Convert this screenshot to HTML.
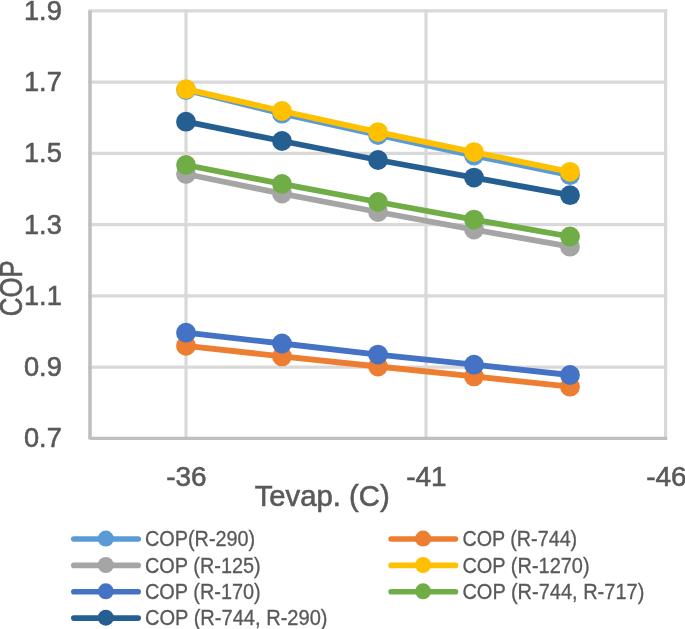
<!DOCTYPE html>
<html><head><meta charset="utf-8"><style>
html,body{margin:0;padding:0;background:#fff;}
body{width:685px;height:629px;overflow:hidden;}
svg{display:block;}
text{font-family:"Liberation Sans",sans-serif;fill:#595959;stroke:#595959;stroke-width:0.6px;}
.tk{font-size:28.5px;}
.ti{font-size:29.5px;}
.cop{font-size:31px;}
.lg{font-size:21.5px;stroke-width:0.3px;}
svg{filter:blur(0.4px);}
</style></head><body>
<svg width="685" height="629" viewBox="0 0 685 629">
<rect width="685" height="629" fill="#fff"/>
<line x1="88.4" y1="10.80" x2="667.2" y2="10.80" stroke="#D9D9D9" stroke-width="3.2"/>
<line x1="88.4" y1="82.05" x2="667.2" y2="82.05" stroke="#D9D9D9" stroke-width="3.2"/>
<line x1="88.4" y1="153.30" x2="667.2" y2="153.30" stroke="#D9D9D9" stroke-width="3.2"/>
<line x1="88.4" y1="224.55" x2="667.2" y2="224.55" stroke="#D9D9D9" stroke-width="3.2"/>
<line x1="88.4" y1="295.80" x2="667.2" y2="295.80" stroke="#D9D9D9" stroke-width="3.2"/>
<line x1="88.4" y1="367.05" x2="667.2" y2="367.05" stroke="#D9D9D9" stroke-width="3.2"/>
<line x1="186" y1="9.200000000000001" x2="186" y2="438.3" stroke="#D9D9D9" stroke-width="3.2"/>
<line x1="426" y1="9.200000000000001" x2="426" y2="438.3" stroke="#D9D9D9" stroke-width="3.2"/>
<line x1="665.6" y1="9.200000000000001" x2="665.6" y2="438.3" stroke="#D9D9D9" stroke-width="3.2"/>
<line x1="90.0" y1="10.8" x2="90.0" y2="439.5" stroke="#BFBFBF" stroke-width="3.6"/>
<line x1="90.0" y1="438.3" x2="667.2" y2="438.3" stroke="#BFBFBF" stroke-width="3.2"/>
<text x="61.8" y="19.80" text-anchor="end" class="tk" textLength="37.8" lengthAdjust="spacingAndGlyphs">1.9</text>
<text x="61.8" y="91.05" text-anchor="end" class="tk" textLength="37.8" lengthAdjust="spacingAndGlyphs">1.7</text>
<text x="61.8" y="162.30" text-anchor="end" class="tk" textLength="37.8" lengthAdjust="spacingAndGlyphs">1.5</text>
<text x="61.8" y="233.55" text-anchor="end" class="tk" textLength="37.8" lengthAdjust="spacingAndGlyphs">1.3</text>
<text x="61.8" y="304.80" text-anchor="end" class="tk" textLength="37.8" lengthAdjust="spacingAndGlyphs">1.1</text>
<text x="61.8" y="376.05" text-anchor="end" class="tk" textLength="37.8" lengthAdjust="spacingAndGlyphs">0.9</text>
<text x="61.8" y="447.30" text-anchor="end" class="tk" textLength="37.8" lengthAdjust="spacingAndGlyphs">0.7</text>
<text x="166.2" y="485.9" class="tk" textLength="40.4" lengthAdjust="spacingAndGlyphs">-36</text>
<text x="406.2" y="485.9" class="tk" textLength="40.4" lengthAdjust="spacingAndGlyphs">-41</text>
<text x="646.2" y="485.9" class="tk" textLength="40.4" lengthAdjust="spacingAndGlyphs">-46</text>
<text x="254.7" y="505.7" class="ti" textLength="135.0" lengthAdjust="spacingAndGlyphs">Tevap. (C)</text>
<text transform="translate(21.7,316.2) rotate(-90)" x="0" y="0" class="ti cop" textLength="56.0" lengthAdjust="spacingAndGlyphs">COP</text>
<polyline points="186,90.0 282,113.7 378,135.0 474,155.6 570,175.2" fill="none" stroke="#5B9BD5" stroke-width="5.8" stroke-linejoin="round" stroke-linecap="round"/>
<circle cx="186" cy="90.0" r="9.9" fill="#5B9BD5"/>
<circle cx="282" cy="113.7" r="9.9" fill="#5B9BD5"/>
<circle cx="378" cy="135.0" r="9.9" fill="#5B9BD5"/>
<circle cx="474" cy="155.6" r="9.9" fill="#5B9BD5"/>
<circle cx="570" cy="175.2" r="9.9" fill="#5B9BD5"/>
<polyline points="186,345.8 282,356.4 378,366.5 474,376.4 570,386.7" fill="none" stroke="#ED7D31" stroke-width="5.8" stroke-linejoin="round" stroke-linecap="round"/>
<circle cx="186" cy="345.8" r="9.9" fill="#ED7D31"/>
<circle cx="282" cy="356.4" r="9.9" fill="#ED7D31"/>
<circle cx="378" cy="366.5" r="9.9" fill="#ED7D31"/>
<circle cx="474" cy="376.4" r="9.9" fill="#ED7D31"/>
<circle cx="570" cy="386.7" r="9.9" fill="#ED7D31"/>
<polyline points="186,174.0 282,193.6 378,212.0 474,229.6 570,246.7" fill="none" stroke="#A5A5A5" stroke-width="5.8" stroke-linejoin="round" stroke-linecap="round"/>
<circle cx="186" cy="174.0" r="9.9" fill="#A5A5A5"/>
<circle cx="282" cy="193.6" r="9.9" fill="#A5A5A5"/>
<circle cx="378" cy="212.0" r="9.9" fill="#A5A5A5"/>
<circle cx="474" cy="229.6" r="9.9" fill="#A5A5A5"/>
<circle cx="570" cy="246.7" r="9.9" fill="#A5A5A5"/>
<polyline points="186,89.2 282,111.0 378,132.1 474,152.1 570,171.8" fill="none" stroke="#FFC000" stroke-width="5.8" stroke-linejoin="round" stroke-linecap="round"/>
<circle cx="186" cy="89.2" r="9.9" fill="#FFC000"/>
<circle cx="282" cy="111.0" r="9.9" fill="#FFC000"/>
<circle cx="378" cy="132.1" r="9.9" fill="#FFC000"/>
<circle cx="474" cy="152.1" r="9.9" fill="#FFC000"/>
<circle cx="570" cy="171.8" r="9.9" fill="#FFC000"/>
<polyline points="186,332.7 282,343.5 378,354.6 474,364.7 570,375.0" fill="none" stroke="#4472C4" stroke-width="5.8" stroke-linejoin="round" stroke-linecap="round"/>
<circle cx="186" cy="332.7" r="9.9" fill="#4472C4"/>
<circle cx="282" cy="343.5" r="9.9" fill="#4472C4"/>
<circle cx="378" cy="354.6" r="9.9" fill="#4472C4"/>
<circle cx="474" cy="364.7" r="9.9" fill="#4472C4"/>
<circle cx="570" cy="375.0" r="9.9" fill="#4472C4"/>
<polyline points="186,165.0 282,183.9 378,202.0 474,219.6 570,236.5" fill="none" stroke="#70AD47" stroke-width="5.8" stroke-linejoin="round" stroke-linecap="round"/>
<circle cx="186" cy="165.0" r="9.9" fill="#70AD47"/>
<circle cx="282" cy="183.9" r="9.9" fill="#70AD47"/>
<circle cx="378" cy="202.0" r="9.9" fill="#70AD47"/>
<circle cx="474" cy="219.6" r="9.9" fill="#70AD47"/>
<circle cx="570" cy="236.5" r="9.9" fill="#70AD47"/>
<polyline points="186,121.7 282,141.0 378,160.0 474,177.6 570,195.2" fill="none" stroke="#255E91" stroke-width="5.8" stroke-linejoin="round" stroke-linecap="round"/>
<circle cx="186" cy="121.7" r="9.9" fill="#255E91"/>
<circle cx="282" cy="141.0" r="9.9" fill="#255E91"/>
<circle cx="378" cy="160.0" r="9.9" fill="#255E91"/>
<circle cx="474" cy="177.6" r="9.9" fill="#255E91"/>
<circle cx="570" cy="195.2" r="9.9" fill="#255E91"/>
<line x1="73.8" y1="539.00" x2="138.2" y2="539.00" stroke="#5B9BD5" stroke-width="5.6" stroke-linecap="round"/>
<circle cx="105.8" cy="538.6" r="8" fill="#5B9BD5"/>
<text x="145.0" y="546.35" class="lg" textLength="110.2" lengthAdjust="spacingAndGlyphs">COP(R-290)</text>
<line x1="391.1" y1="539.00" x2="455.5" y2="539.00" stroke="#ED7D31" stroke-width="5.6" stroke-linecap="round"/>
<circle cx="423.1" cy="538.6" r="8" fill="#ED7D31"/>
<text x="462.4" y="546.35" class="lg" textLength="114.8" lengthAdjust="spacingAndGlyphs">COP (R-744)</text>
<line x1="73.8" y1="565.40" x2="138.2" y2="565.40" stroke="#A5A5A5" stroke-width="5.6" stroke-linecap="round"/>
<circle cx="105.8" cy="565.0" r="8" fill="#A5A5A5"/>
<text x="145.0" y="572.75" class="lg" textLength="115.7" lengthAdjust="spacingAndGlyphs">COP (R-125)</text>
<line x1="391.1" y1="565.40" x2="455.5" y2="565.40" stroke="#FFC000" stroke-width="5.6" stroke-linecap="round"/>
<circle cx="423.1" cy="565.0" r="8" fill="#FFC000"/>
<text x="462.4" y="572.75" class="lg" textLength="127.2" lengthAdjust="spacingAndGlyphs">COP (R-1270)</text>
<line x1="73.8" y1="591.70" x2="138.2" y2="591.70" stroke="#4472C4" stroke-width="5.6" stroke-linecap="round"/>
<circle cx="105.8" cy="591.3" r="8" fill="#4472C4"/>
<text x="145.0" y="599.05" class="lg" textLength="115.7" lengthAdjust="spacingAndGlyphs">COP (R-170)</text>
<line x1="391.1" y1="591.70" x2="455.5" y2="591.70" stroke="#70AD47" stroke-width="5.6" stroke-linecap="round"/>
<circle cx="423.1" cy="591.3" r="8" fill="#70AD47"/>
<text x="462.4" y="599.05" class="lg" textLength="181.9" lengthAdjust="spacingAndGlyphs">COP (R-744, R-717)</text>
<line x1="73.8" y1="618.10" x2="138.2" y2="618.10" stroke="#255E91" stroke-width="5.6" stroke-linecap="round"/>
<circle cx="105.8" cy="617.7" r="8" fill="#255E91"/>
<text x="145.0" y="625.45" class="lg" textLength="182.5" lengthAdjust="spacingAndGlyphs">COP (R-744, R-290)</text>
</svg>
</body></html>
